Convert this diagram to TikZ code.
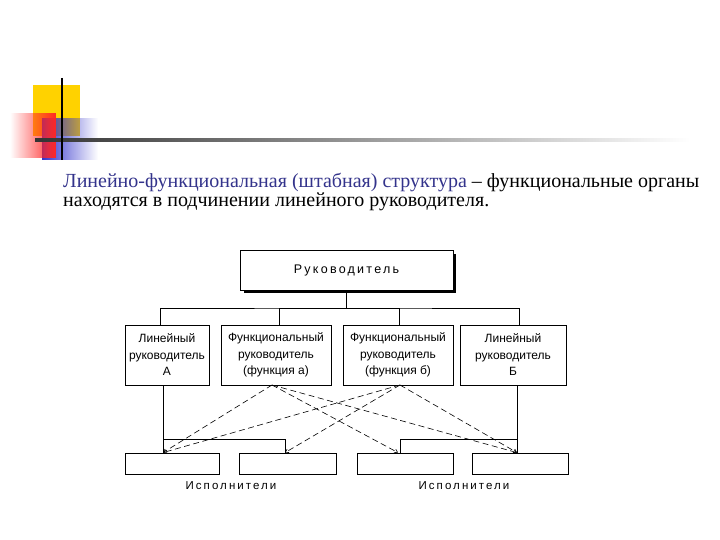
\documentclass[tikz,border=0pt]{standalone}
\usepackage{fontspec}
\setmainfont{Liberation Serif}
\setsansfont{Liberation Sans}
\newfontfamily\spaced[LetterSpace=18]{Liberation Sans}
\usetikzlibrary{fadings,arrows.meta}
\definecolor{titleblue}{HTML}{33338B}
\definecolor{decyel}{HTML}{FFD200}
\definecolor{decblue}{HTML}{3333CC}
\begin{document}
\begin{tikzpicture}[x=1pt,y=-1pt,
  box/.style={draw,line width=0.8pt,inner sep=0pt,font=\sffamily\fontsize{12}{16.5}\selectfont,align=center},
  conn/.style={line width=0.5pt},
  dsh/.style={line width=0.6pt,dash pattern=on 6pt off 3.5pt,-{Straight Barb[length=3pt,width=4pt]}},
  lbl/.style={font=\spaced\fontsize{11.5}{13}\selectfont}]
\useasboundingbox (0,0) rectangle (720,540);
% decoration
\fill[decyel] (33,85) rectangle (80,136);
\fill[decblue,path fading=east] (42,118) rectangle (98,160);
\fill[red!85,path fading=west] (10,113) rectangle (56,158);
\shade[left color=black!80,right color=white] (35,139) rectangle (690,141.5);
\draw[line width=1.6pt] (62,78) -- (62,160);
% text
\node[anchor=west,align=left,inner sep=0pt,font=\fontsize{20}{19.5}\selectfont] (txt) at (63,192)
 {\textcolor{titleblue}{Линейно-функциональная (штабная) структура} – функциональные органы\\находятся в подчинении линейного руководителя.};
% diagram
\fill[black] (244,254) rectangle (456,293);
\node[box,fill=white,minimum width=213pt,minimum height=40pt,font=\spaced\fontsize{12.5}{13}\selectfont] (top) at (346.5,270) {Руководитель};
\node[box,minimum width=84pt,minimum height=60pt] (la) at (167,355) {Линейный\\руководитель\\А};
\node[box,minimum width=110pt,minimum height=60pt] (fa) at (276,355) {Функциональный\\руководитель\\(функция а)};
\node[box,minimum width=110pt,minimum height=60pt] (fb) at (398,355) {Функциональный\\руководитель\\(функция б)};
\node[box,minimum width=106pt,minimum height=60pt] (lb) at (513,355) {Линейный\\руководитель\\Б};
\node[box,minimum width=94pt,minimum height=21pt] (e1) at (172,463.5) {};
\node[box,minimum width=97pt,minimum height=21pt] (e2) at (287.5,463.5) {};
\node[box,minimum width=96pt,minimum height=21pt] (e3) at (405,463.5) {};
\node[box,minimum width=96pt,minimum height=21pt] (e4) at (520,463.5) {};
\node[lbl] (x1) at (231,486) {Исполнители};
\node[lbl] (x2) at (464,486) {Исполнители};
\coordinate (bus) at (346.5,308);
\draw[conn] (top.south) -- (bus);
\draw[conn] (160,325) |- (bus) -| (519,325);
\draw[conn] (top.south |- 0,308) -| (fa.north -| 279,0);
\draw[conn] (top.south |- 0,308) -| (fb.north -| 399,0);
% solid lines to executors
\draw[conn] (la.south -| 163,0) -- (e1.north -| 163,0);
\draw[conn] (163,439) -| (e2.north -| 285,0);
\draw[conn] (lb.south -| 517,0) -- (e4.north -| 517,0);
\draw[conn] (517,439) -| (e3.north -| 400,0);
% dashed
\coordinate (pa) at (272,385);
\coordinate (pb) at (400,385);
\draw[dsh] (pa) -- (e1.north -| 163,0);
\draw[dsh] (pa) -- (e3.north -| 398,0);
\draw[dsh] (pa) -- (e4.north -| 517,0);
\draw[dsh] (pb) -- (e1.north -| 163,0);
\draw[dsh] (pb) -- (e2.north -| 285,0);
\draw[dsh] (pb) -- (e4.north -| 517,0);
\end{tikzpicture}
\end{document}
